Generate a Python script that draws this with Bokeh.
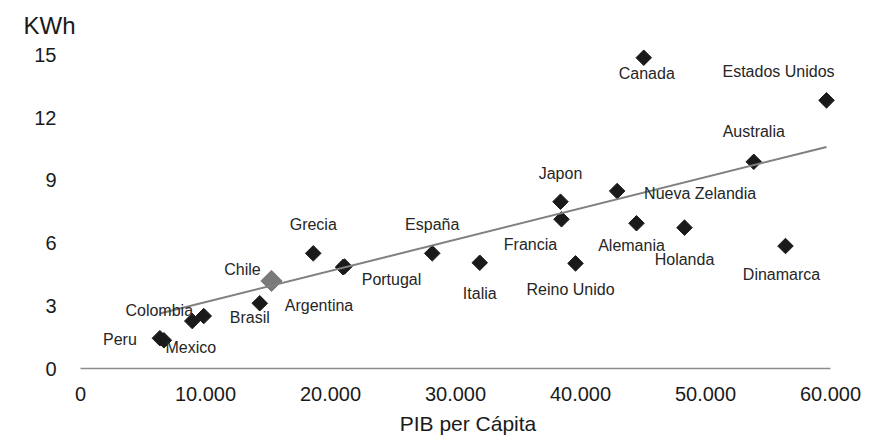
import numpy as np
from bokeh.plotting import figure
from bokeh.models import Range1d, FixedTicker, ColumnDataSource, Title
from bokeh.core.properties import value
from bokeh.embed import file_html
from bokeh.resources import INLINE

# ---- data ----
countries = ["Peru", "Mexico", "Colombia", "", "Brasil", "Grecia", "Argentina", "Portugal",
             "España", "Italia", "Japon", "Francia", "Reino Unido", "Nueva Zelandia",
             "Alemania", "Canada", "Holanda", "Australia", "Dinamarca", "Estados Unidos"]
gdp = [6350, 6670, 8940, 9860, 14340, 18620, 21000, 21120,
       28140, 31940, 38400, 38480, 39600, 42930,
       44480, 45060, 48320, 53860, 56400, 59680]
kwh = [1.45, 1.35, 2.27, 2.51, 3.12, 5.51, 4.85, 4.88,
       5.51, 5.06, 7.98, 7.14, 5.03, 8.49,
       6.95, 14.87, 6.74, 9.89, 5.86, 12.83]

chile_name = ["Chile"]
chile_gdp = [15280]
chile_kwh = [4.19]

trend_gdp = [6350, 59680]
trend_kwh = [2.63, 10.60]

x_ticks = [0, 10000, 20000, 30000, 40000, 50000, 60000]
x_tick_labels = ["0", "10.000", "20.000", "30.000", "40.000", "50.000", "60.000"]
y_ticks = [0, 3, 6, 9, 12, 15]

# label offsets in screen pixels (dx right, dy down)
label_dx = [-40, 27, -33, 0, -10, 0, -24, 47, 0, 0, 0, -31, -5, 83, -5, 3, 0, 0, -4, -48]
label_dy = [1, 7, -11, 0, 14, -29, 38, 13, -29, 31, -28, 25, 26, 2, 22, 16, 32, -30, 28, -29]
chile_dx = [-29]
chile_dy = [-11]

FONT = "Liberation Sans"

p = figure(width=879, height=440, output_backend="svg", toolbar_location=None,
           x_range=Range1d(0, 62000), y_range=Range1d(0, 15.79),
           min_border_left=80, min_border_right=24, min_border_top=38, min_border_bottom=72)
p.outline_line_color = None
p.xgrid.grid_line_color = None
p.ygrid.grid_line_color = None
p.background_fill_color = "white"
p.border_fill_color = "white"

# axes
p.xaxis.ticker = FixedTicker(ticks=x_ticks)
p.xaxis.major_label_overrides = {t: l for t, l in zip(x_ticks, x_tick_labels)}
p.xaxis.bounds = (0, 60000)
p.xaxis.axis_line_color = "#8c8c8c"
p.xaxis.axis_line_width = 1.5
p.xaxis.major_tick_line_color = None
p.xaxis.minor_tick_line_color = None
p.xaxis.major_label_text_font = FONT
p.xaxis.major_label_text_font_size = "20px"
p.xaxis.major_label_text_color = "#1a1a1a"
p.xaxis.major_label_standoff = 12

p.yaxis.ticker = FixedTicker(ticks=y_ticks)
p.yaxis.axis_line_color = None
p.yaxis.major_tick_line_color = None
p.yaxis.minor_tick_line_color = None
p.yaxis.major_label_text_font = FONT
p.yaxis.major_label_text_font_size = "20px"
p.yaxis.major_label_text_color = "#1a1a1a"
p.yaxis.major_label_standoff = 18

# points
src = ColumnDataSource(dict(x=gdp, y=kwh, name=countries, dx=label_dx, dy=label_dy))
csrc = ColumnDataSource(dict(x=chile_gdp, y=chile_kwh, name=chile_name, dx=chile_dx, dy=chile_dy))

p.scatter("x", "y", source=src, marker="square", size=11, angle=np.pi / 4,
          fill_color="#1a1a1a", line_color="#1a1a1a")
p.scatter("x", "y", source=csrc, marker="square", size=15, angle=np.pi / 4,
          fill_color="#7a7a7a", line_color="#7a7a7a")

# trend line
p.line(trend_gdp, trend_kwh, line_color="#808080", line_width=2)

# point labels
for s in (src, csrc):
    p.text("x", "y", text="name", source=s, x_offset="dx", y_offset="dy",
           text_align="center", text_baseline="middle",
           text_font=value(FONT), text_font_size="16px", text_color="#262626")

# axis titles
p.add_layout(Title(text="KWh", align="left", offset=-57, standoff=0,
                   text_font=FONT, text_font_size="24px", text_color="#1a1a1a",
                   text_font_style="normal"), "above")
p.add_layout(Title(text="PIB per Cápita", align="center", offset=12, standoff=12,
                   text_font=FONT, text_font_size="21px", text_color="#1a1a1a",
                   text_font_style="normal"), "below")

open("out.html", "w").write(file_html(p, INLINE))
